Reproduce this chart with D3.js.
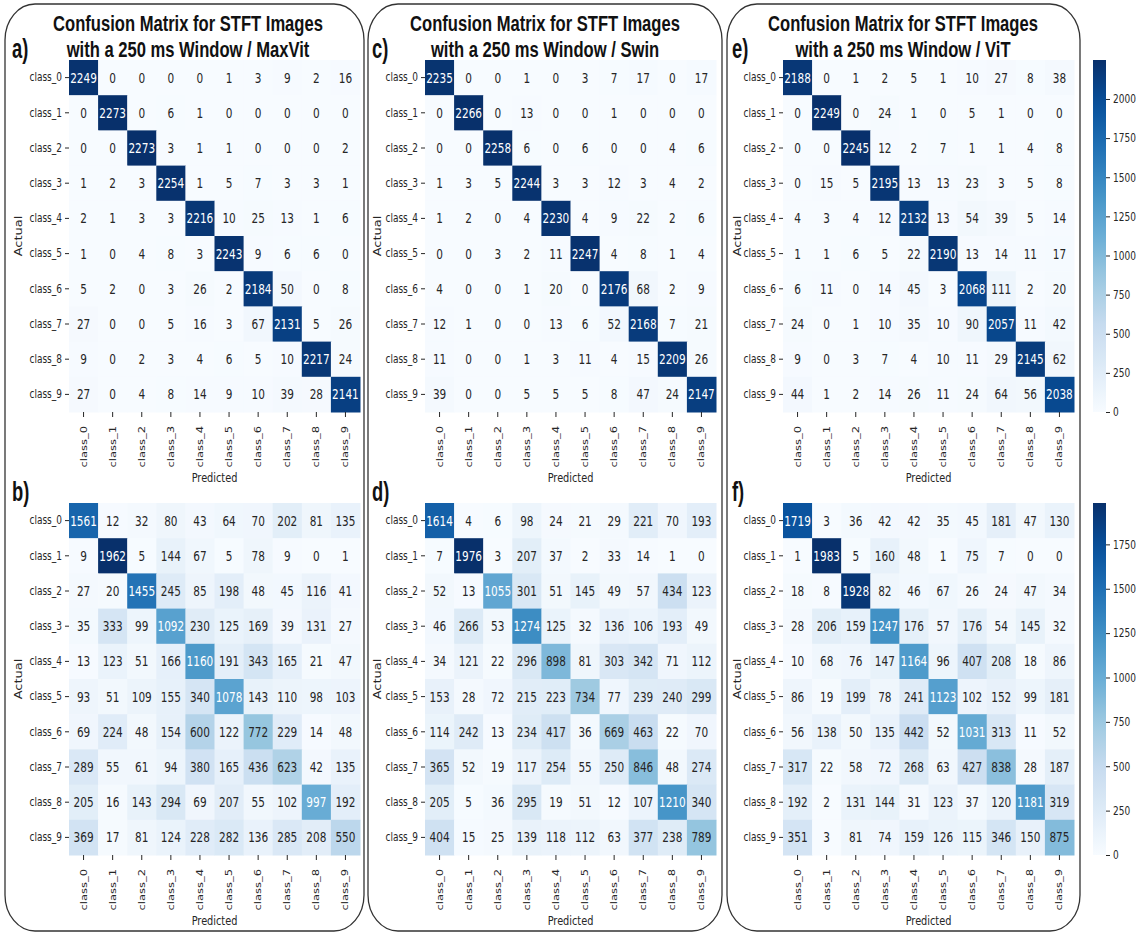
<!DOCTYPE html>
<html>
<head>
<meta charset="utf-8">
<script src="https://cdn.jsdelivr.net/npm/d3@7"></script>
<style>
  html, body { margin: 0; padding: 0; background: #fff; }
  svg { display: block; }
</style>
</head>
<body>
<svg id="chart" width="1141" height="934"></svg>
<script>
// ---------------- DATA ----------------
const classes = ["class_0","class_1","class_2","class_3","class_4","class_5","class_6","class_7","class_8","class_9"];
const models = ["MaxVit", "Swin", "ViT"];
const panelLabels = ["a)", "b)", "c)", "d)", "e)", "f)"];
const cbarTicksTop = [0, 250, 500, 750, 1000, 1250, 1500, 1750, 2000];
const cbarTicksBottom = [0, 250, 500, 750, 1000, 1250, 1500, 1750];

const matrixA = [
  [2249,0,0,0,0,1,3,9,2,16],
  [0,2273,0,6,1,0,0,0,0,0],
  [0,0,2273,3,1,1,0,0,0,2],
  [1,2,3,2254,1,5,7,3,3,1],
  [2,1,3,3,2216,10,25,13,1,6],
  [1,0,4,8,3,2243,9,6,6,0],
  [5,2,0,3,26,2,2184,50,0,8],
  [27,0,0,5,16,3,67,2131,5,26],
  [9,0,2,3,4,6,5,10,2217,24],
  [27,0,4,8,14,9,10,39,28,2141]
];
const matrixB = [
  [1561,12,32,80,43,64,70,202,81,135],
  [9,1962,5,144,67,5,78,9,0,1],
  [27,20,1455,245,85,198,48,45,116,41],
  [35,333,99,1092,230,125,169,39,131,27],
  [13,123,51,166,1160,191,343,165,21,47],
  [93,51,109,155,340,1078,143,110,98,103],
  [69,224,48,154,600,122,772,229,14,48],
  [289,55,61,94,380,165,436,623,42,135],
  [205,16,143,294,69,207,55,102,997,192],
  [369,17,81,124,228,282,136,285,208,550]
];
const matrixC = [
  [2235,0,0,1,0,3,7,17,0,17],
  [0,2266,0,13,0,0,1,0,0,0],
  [0,0,2258,6,0,6,0,0,4,6],
  [1,3,5,2244,3,3,12,3,4,2],
  [1,2,0,4,2230,4,9,22,2,6],
  [0,0,3,2,11,2247,4,8,1,4],
  [4,0,0,1,20,0,2176,68,2,9],
  [12,1,0,0,13,6,52,2168,7,21],
  [11,0,0,1,3,11,4,15,2209,26],
  [39,0,0,5,5,5,8,47,24,2147]
];
const matrixD = [
  [1614,4,6,98,24,21,29,221,70,193],
  [7,1976,3,207,37,2,33,14,1,0],
  [52,13,1055,301,51,145,49,57,434,123],
  [46,266,53,1274,125,32,136,106,193,49],
  [34,121,22,296,898,81,303,342,71,112],
  [153,28,72,215,223,734,77,239,240,299],
  [114,242,13,234,417,36,669,463,22,70],
  [365,52,19,117,254,55,250,846,48,274],
  [205,5,36,295,19,51,12,107,1210,340],
  [404,15,25,139,118,112,63,377,238,789]
];
const matrixE = [
  [2188,0,1,2,5,1,10,27,8,38],
  [0,2249,0,24,1,0,5,1,0,0],
  [0,0,2245,12,2,7,1,1,4,8],
  [0,15,5,2195,13,13,23,3,5,8],
  [4,3,4,12,2132,13,54,39,5,14],
  [1,1,6,5,22,2190,13,14,11,17],
  [6,11,0,14,45,3,2068,111,2,20],
  [24,0,1,10,35,10,90,2057,11,42],
  [9,0,3,7,4,10,11,29,2145,62],
  [44,1,2,14,26,11,24,64,56,2038]
];
const matrixF = [
  [1719,3,36,42,42,35,45,181,47,130],
  [1,1983,5,160,48,1,75,7,0,0],
  [18,8,1928,82,46,67,26,24,47,34],
  [28,206,159,1247,176,57,176,54,145,32],
  [10,68,76,147,1164,96,407,208,18,86],
  [86,19,199,78,241,1123,102,152,99,181],
  [56,138,50,135,442,52,1031,313,11,52],
  [317,22,58,72,268,63,427,838,28,187],
  [192,2,131,144,31,123,37,120,1181,319],
  [351,3,81,74,159,126,115,346,150,875]
];

// ---------------- LAYOUT ----------------
const SX = 0.75; // horizontal text compression of the reference
const blues = ["#f7fbff","#deebf7","#c6dbef","#9ecae1","#6baed6","#4292c6","#2171b5","#08519c","#08306b"];
const colX = [69, 425, 783];
const matW = 291, matH = 352;
const rowY = [60, 503];
const titleCX = [188, 545, 903];
const labelX = [12, 372, 732];
const actualX = [19, 378, 738];
const borders = [[5, 364], [368, 722], [727, 1080]];
const panels = [
  {m: matrixA, col: 0, row: 0, lab: panelLabels[0]},
  {m: matrixB, col: 0, row: 1, lab: panelLabels[1]},
  {m: matrixC, col: 1, row: 0, lab: panelLabels[2]},
  {m: matrixD, col: 1, row: 1, lab: panelLabels[3]},
  {m: matrixE, col: 2, row: 0, lab: panelLabels[4]},
  {m: matrixF, col: 2, row: 1, lab: panelLabels[5]}
];

const svg = d3.select("#chart");
svg.append("rect").attr("width", 1141).attr("height", 934).attr("fill", "#fff");

function makeColor(mx) {
  const dom = blues.map((_, i) => i / 8 * mx);
  return d3.scaleLinear().domain(dom).range(blues).interpolate(d3.interpolateRgb).clamp(true);
}
function lum(c) {
  const rgb = d3.rgb(c);
  const f = v => { v /= 255; return v <= 0.03928 ? v / 12.92 : Math.pow((v + 0.055) / 1.055, 2.4); };
  return 0.2126 * f(rgb.r) + 0.7152 * f(rgb.g) + 0.0722 * f(rgb.b);
}

// borders
borders.forEach(b => {
  svg.append("rect")
    .attr("x", b[0]).attr("y", 4)
    .attr("width", b[1] - b[0]).attr("height", 927)
    .attr("rx", 30).attr("ry", 36)
    .attr("fill", "none").attr("stroke", "#333").attr("stroke-width", 1.3);
});

const FONT = "'DejaVu Sans', sans-serif";
const TXT = "#262626";

panels.forEach(p => {
  const x0 = colX[p.col], y0 = rowY[p.row];
  const g = svg.append("g").attr("transform", `translate(${x0},${y0})`);
  const xb = d3.scaleBand().domain(classes).range([0, matW]);
  const yb = d3.scaleBand().domain(classes).range([0, matH]);
  const vmax = d3.max(p.m.flat());
  const color = makeColor(vmax);
  p.color = color; p.vmax = vmax;

  const cells = [];
  p.m.forEach((row, i) => row.forEach((v, j) => cells.push({i, j, v})));

  g.selectAll("rect.cell").data(cells).join("rect")
    .attr("class", "cell")
    .attr("x", d => xb(classes[d.j]))
    .attr("y", d => yb(classes[d.i]))
    .attr("width", xb.bandwidth() + 0.5)
    .attr("height", yb.bandwidth() + 0.5)
    .attr("fill", d => color(d.v));

  g.selectAll("text.ann").data(cells).join("text")
    .attr("class", "ann")
    .attr("transform", d => `translate(${xb(classes[d.j]) + xb.bandwidth() / 2},${yb(classes[d.i]) + yb.bandwidth() / 2}) scale(${SX},1)`)
    .attr("dy", "0.36em")
    .attr("text-anchor", "middle")
    .attr("font-family", FONT)
    .attr("font-size", 14)
    .attr("fill", d => lum(color(d.v)) > 0.408 ? TXT : "#ffffff")
    .text(d => d.v);

  // y axis
  const ya = g.append("g").call(d3.axisLeft(yb).tickSize(4).tickPadding(3));
  ya.select(".domain").remove();
  ya.selectAll(".tick line").attr("stroke", TXT);
  ya.selectAll(".tick text")
    .attr("x", null)
    .attr("transform", `translate(-7,0) scale(${SX},1)`)
    .attr("font-family", FONT).attr("font-size", 12).attr("fill", TXT);

  // x axis
  const xa = g.append("g").attr("transform", `translate(0,${matH})`)
    .call(d3.axisBottom(xb).tickSize(5).tickPadding(3));
  xa.select(".domain").remove();
  xa.selectAll(".tick line").attr("stroke", TXT);
  xa.selectAll(".tick text")
    .attr("y", 0).attr("dy", "0.35em")
    .attr("x", -14)
    .attr("text-anchor", "end")
    .attr("transform", `scale(${SX},1) rotate(-90)`)
    .attr("font-family", FONT).attr("font-size", 11.5).attr("fill", TXT);

  // axis titles
  g.append("text")
    .attr("transform", `translate(${matW / 2},${matH + 70}) scale(${SX},1)`)
    .attr("text-anchor", "middle")
    .attr("font-family", FONT).attr("font-size", 13).attr("fill", TXT)
    .text("Predicted");
  g.append("text")
    .attr("transform", `translate(${actualX[p.col] - x0},${matH / 2}) scale(${SX},1) rotate(-90)`)
    .attr("dy", "0.35em")
    .attr("text-anchor", "middle")
    .attr("font-family", FONT).attr("font-size", 13).attr("fill", TXT)
    .text("Actual");

  // panel label
  svg.append("text")
    .attr("font-family", "'Liberation Sans', Arial, sans-serif")
    .attr("font-weight", "bold").attr("font-size", 27).attr("fill", "#111")
    .attr("transform", `translate(${labelX[p.col]},${y0 - 2}) scale(0.68,1)`)
    .text(p.lab);

  // titles
  if (p.row === 0) {
    const cx = titleCX[p.col];
    const t1 = svg.append("text")
      .attr("font-family", "'Liberation Sans', Arial, sans-serif")
      .attr("font-weight", "bold").attr("font-size", 22).attr("fill", "#111")
      .attr("text-anchor", "middle")
      .text("Confusion Matrix for STFT Images");
    const len = t1.node().getComputedTextLength();
    const s = 270 / len;
    t1.attr("transform", `translate(${cx},31) scale(${s},1)`);
    svg.append("text")
      .attr("font-family", "'Liberation Sans', Arial, sans-serif")
      .attr("font-weight", "bold").attr("font-size", 22).attr("fill", "#111")
      .attr("text-anchor", "middle")
      .attr("transform", `translate(${cx},57) scale(${s},1)`)
      .text("with a 250 ms Window / " + models[p.col]);
  }
});

// colorbars (for the ViT column)
const defs = svg.append("defs");
[[panels[4], cbarTicksTop, 0], [panels[5], cbarTicksBottom, 1]].forEach(([p, ticks, r]) => {
  const y0 = rowY[r];
  const cs = d3.scaleLinear().domain([0, p.vmax]).range([matH, 0]);
  const gid = "cbg" + r;
  const grad = defs.append("linearGradient").attr("id", gid)
    .attr("x1", 0).attr("y1", 1).attr("x2", 0).attr("y2", 0);
  d3.range(0, 1.0001, 0.05).forEach(t => {
    grad.append("stop").attr("offset", t).attr("stop-color", p.color(t * p.vmax));
  });
  const g = svg.append("g").attr("transform", `translate(1093,${y0})`);
  g.append("rect").attr("width", 13).attr("height", matH).attr("fill", `url(#${gid})`);
  const ax = g.append("g").attr("transform", "translate(13,0)")
    .call(d3.axisRight(cs).tickValues(ticks).tickFormat(d3.format("d")).tickSize(4).tickPadding(3));
  ax.select(".domain").remove();
  ax.selectAll(".tick line").attr("stroke", TXT);
  ax.selectAll(".tick text")
    .attr("x", null)
    .attr("transform", `translate(7,0) scale(${SX},1)`)
    .attr("font-family", FONT).attr("font-size", 12).attr("fill", TXT);
});
</script>
</body>
</html>
